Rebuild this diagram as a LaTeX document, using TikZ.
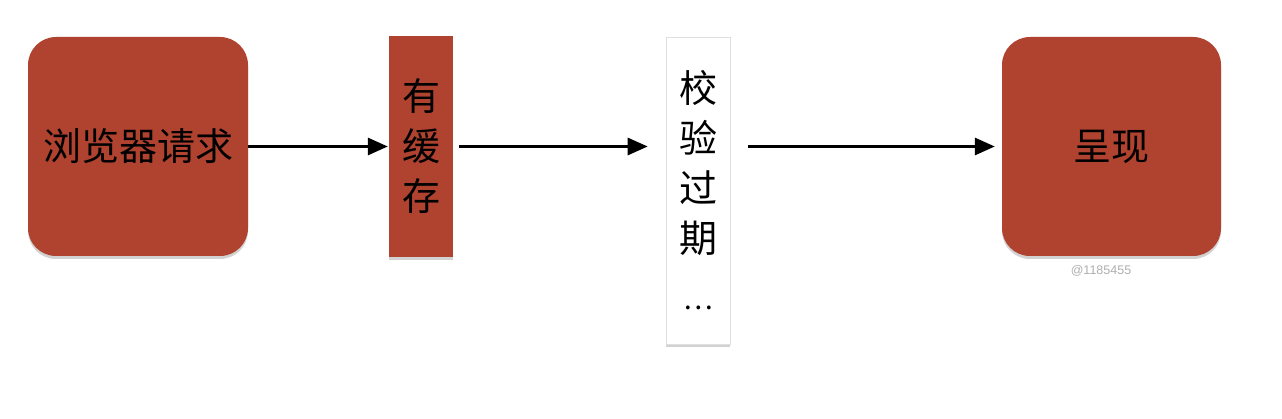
\documentclass[tikz,border=0pt]{standalone}
\usepackage{fontspec}
\newfontfamily\cjk{Noto Sans CJK SC}
\setsansfont{Liberation Sans}
\usetikzlibrary{arrows.meta,shadows}
\definecolor{brick}{RGB}{176,66,48}
\definecolor{wm}{RGB}{175,175,175}
\tikzset{
  redbox/.style={fill=brick, draw=none, inner sep=0pt,
    drop shadow={opacity=0.35, shadow xshift=0pt, shadow yshift=-3pt}},
  whitebox/.style={fill=white, draw=black!12, line width=0.6pt, inner sep=0pt,
    drop shadow={opacity=0.35, shadow xshift=0pt, shadow yshift=-3pt}},
  big/.style={font=\cjk\fontsize{38pt}{50pt}\selectfont, align=center},
  flow/.style={line width=3pt, -{Triangle[length=20pt,width=17pt]}},
}
\begin{document}
\begin{tikzpicture}[x=1pt,y=-1pt]
\useasboundingbox[fill=white] (0,0) rectangle (1282,419);
\node[redbox, rounded corners=28pt, minimum width=220pt, minimum height=219pt, big] (b1) at (138,146.5) {浏览器请求};
\node[redbox, minimum width=64pt, minimum height=221pt, big] (b2) at (421,146.5) {有\\缓\\存};
\node[whitebox, minimum width=64pt, minimum height=307pt, big] (b3) at (698,190.5) {校\\验\\过\\期\\\raisebox{-7pt}{\fontsize{28pt}{50pt}\selectfont …}};
\node[redbox, rounded corners=28pt, minimum width=219pt, minimum height=219pt, big] (b4) at (1111.5,146.5) {呈现};
\node[font=\sffamily\fontsize{12.5pt}{14pt}\selectfont, text=wm] (wm) at (1101,271) {@1185455};
\draw[flow, shorten >=1pt] (b1.east) -- (b2.west);
\draw[flow, shorten <=6pt, shorten >=18pt] (b2.east) -- (b2.east -| b3.west);
\draw[flow, shorten <=18pt, shorten >=7pt] (b3.east |- b4.west) -- (b4.west);
\end{tikzpicture}
\end{document}
